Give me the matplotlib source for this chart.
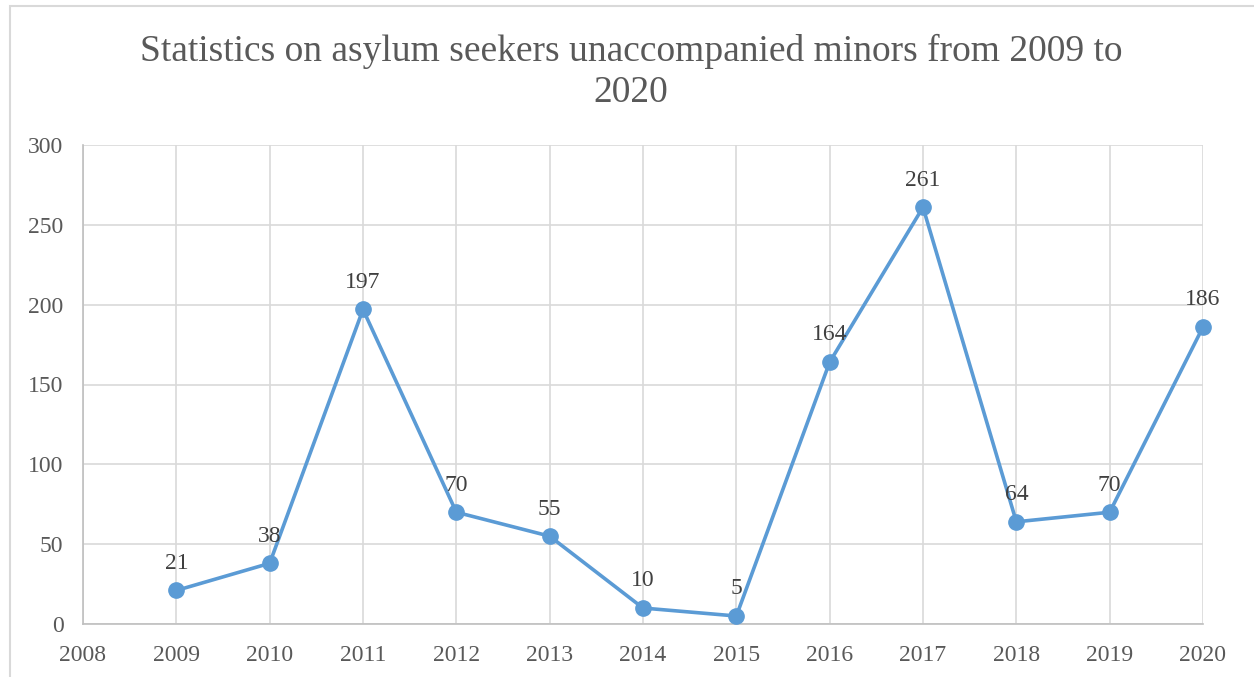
import matplotlib.pyplot as plt
from matplotlib.patches import Rectangle

years = [2009, 2010, 2011, 2012, 2013, 2014, 2015, 2016, 2017, 2018, 2019, 2020]
minors = [21, 38, 197, 70, 55, 10, 5, 164, 261, 64, 70, 186]
title = "Statistics on asylum seekers unaccompanied minors from 2009 to\n2020"

plt.rcParams['font.family'] = ['Liberation Serif', 'DejaVu Serif']

fig = plt.figure(figsize=(12.54, 6.77), dpi=100)
ax = fig.add_axes([83 / 1254, 1 - 624 / 677, 1120 / 1254, 479 / 677])

# chart border (cropped at right and bottom like the source)
fig.patches.append(Rectangle((10 / 1254, -0.05), 1.2, 1 - 6 / 677 + 0.05,
                             transform=fig.transFigure, fill=False,
                             edgecolor='#d9d9d9', linewidth=1.5))

ax.plot(years, minors, color='#5B9BD5', linewidth=2.6, marker='o',
        markersize=11, zorder=3, clip_on=False)

for x, y in zip(years, minors):
    ax.annotate(str(y), (x, y), xytext=(0, 12), textcoords='offset points',
                ha='center', va='bottom', fontsize=17, color='#404040')

ax.set_xlim(2008, 2020)
ax.set_ylim(0, 300)
ax.set_xticks(range(2008, 2021))
ax.set_yticks(range(0, 301, 50))
ax.grid(True, color='#d9d9d9', linewidth=1.2)
ax.set_axisbelow(True)
for s in ['top', 'right']:
    ax.spines[s].set_visible(False)
for s in ['left', 'bottom']:
    ax.spines[s].set_color('#bfbfbf')
    ax.spines[s].set_linewidth(1.2)
ax.tick_params(length=0, labelsize=17, labelcolor='#595959')
ax.tick_params(axis='x', pad=15)
ax.tick_params(axis='y', pad=14)

fig.text(631 / 1254, 1 - 72 / 677, title, ha='center', va='center',
         fontsize=27, color='#595959', linespacing=1.25)

plt.savefig('out.png', dpi=100)
